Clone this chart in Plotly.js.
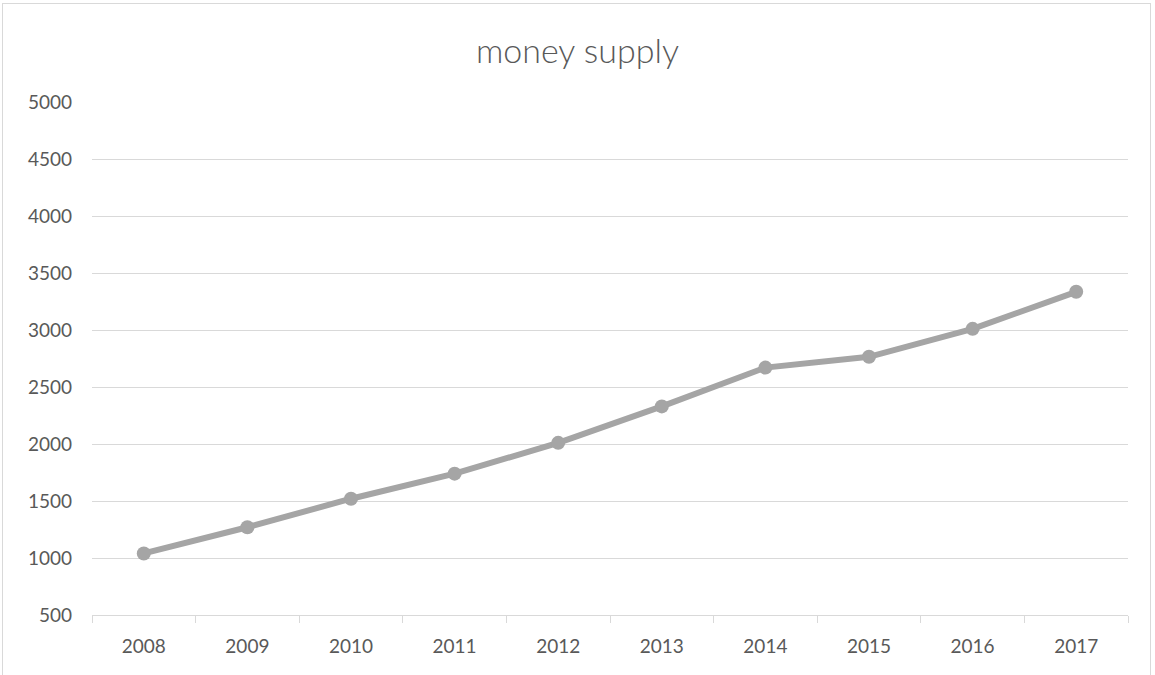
<!DOCTYPE html>
<html>
<head>
<meta charset="utf-8">
<script src="https://cdn.plot.ly/plotly-3.0.1.min.js"></script>
<style>
html,body{margin:0;padding:0;background:#fff;overflow:hidden;}
#chart{width:1155px;height:675px;}
#frame{position:absolute;left:2px;top:3px;width:1147px;height:690px;border:1px solid #d9d9d9;pointer-events:none;}
</style>
</head>
<body>
<div id="chart"></div>
<div id="frame"></div>
<script>
const years = ['2008','2009','2010','2011','2012','2013','2014','2015','2016','2017'];
const moneySupply = [1040, 1270, 1520, 1740, 2010, 2330, 2670, 2765, 3010, 3335];
const yTicks = [500, 1000, 1500, 2000, 2500, 3000, 3500, 4000, 4500, 5000];
const chartTitle = 'money supply';

const fontFam = 'Lato, "Open Sans", sans-serif';
const grey = '#a5a5a5';

Plotly.newPlot('chart', [{
  type: 'scatter',
  mode: 'lines+markers',
  x: years,
  y: moneySupply,
  line: {color: grey, width: 6},
  marker: {color: grey, size: 14},
  hoverinfo: 'x+y'
}], {
  width: 1155,
  height: 675,
  margin: {l: 92, r: 27, t: 102, b: 60},
  paper_bgcolor: '#ffffff',
  plot_bgcolor: '#ffffff',
  showlegend: false,
  title: {
    text: chartTitle,
    x: 0.5,
    xanchor: 'center',
    y: 0.925,
    yanchor: 'middle',
    font: {family: fontFam, size: 34, color: '#595959', weight: 300}
  },
  xaxis: {
    type: 'category',
    range: [-0.5, 9.5],
    tickson: 'boundaries',
    ticks: 'outside',
    ticklen: 7,
    tickcolor: '#d9d9d9',
    tickwidth: 1,
    showline: true,
    linecolor: '#d9d9d9',
    linewidth: 1,
    showgrid: false,
    zeroline: false,
    ticklabelstandoff: 14,
    tickfont: {family: fontFam, size: 19, color: '#595959'},
    fixedrange: true
  },
  yaxis: {
    range: [500, 5000],
    tickmode: 'array',
    tickvals: yTicks,
    ticktext: yTicks.map(String),
    showgrid: true,
    gridcolor: '#d9d9d9',
    gridwidth: 1,
    zeroline: false,
    showline: false,
    ticks: '',
    ticklabelstandoff: 19,
    tickfont: {family: fontFam, size: 19, color: '#595959'},
    fixedrange: true
  }
}, {displayModeBar: false, staticPlot: true});
</script>
</body>
</html>
